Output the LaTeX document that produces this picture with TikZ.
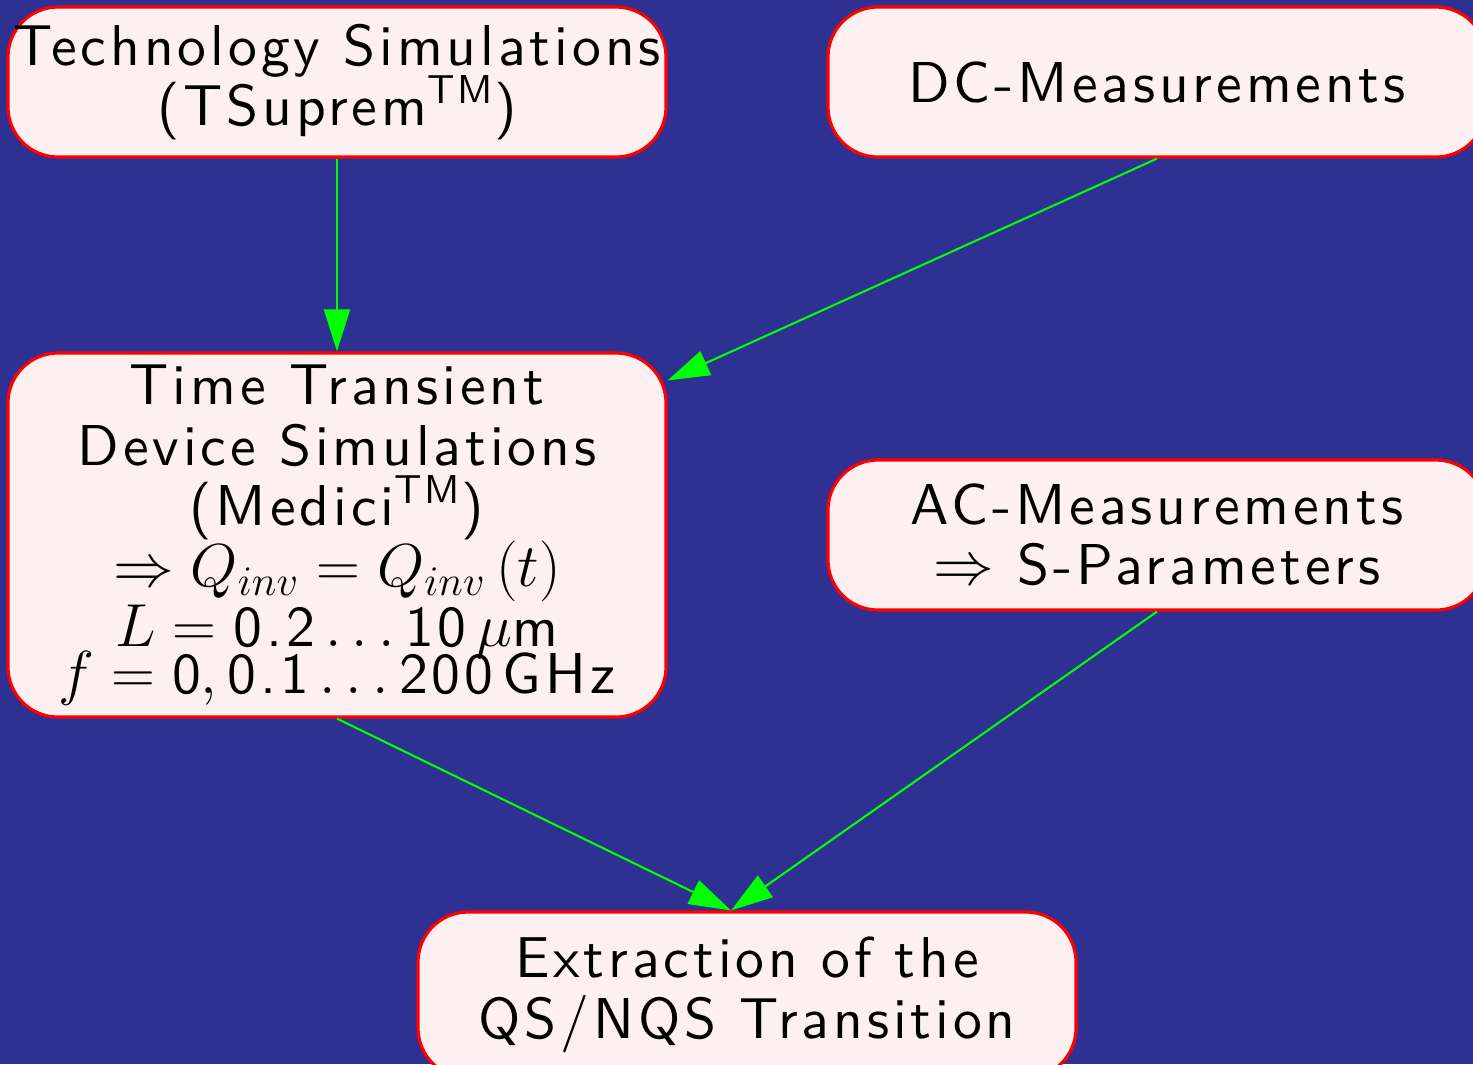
\documentclass[tikz,border=0pt]{standalone}
\usepackage{fontspec}
\usetikzlibrary{arrows.meta}
\newfontfamily\widesans{lmsans10-regular.otf}[LetterSpace=6.8]
\definecolor{bgblue}{RGB}{46,49,146}
\definecolor{boxfill}{RGB}{253,240,240}
\newcommand{\sfnum}[1]{\mbox{#1}}
\newcommand{\boxfont}{\widesans\fontsize{16.4}{17.2}\selectfont\setlength{\lineskiplimit}{-8pt}}
\tikzset{
  box/.style={draw=red, line width=0.9pt, fill=boxfill, rounded corners=0.5cm,
    minimum width=6.58cm, minimum height=1.5cm, align=center, inner xsep=0pt, inner ysep=2pt,
    font=\boxfont},
  flow/.style={draw=green, line width=0.6pt, -{Triangle[length=0.42cm,width=0.26cm]}}
}
\begin{document}
\begin{tikzpicture}
\useasboundingbox (0,0) rectangle (14.73,-10.64);
\fill[bgblue] (0,0) rectangle (14.73,-10.64);

\node[box] (tech) at (3.37,-0.82) {Technology Simulations\\(TSuprem\textsuperscript{TM})};
\node[box] (dc) at (11.57,-0.82) {DC-Measurements};
\node[box, minimum height=3.64cm] (time) at (3.37,-5.35) {Time Transient\\Device Simulations\\(Medici\textsuperscript{TM})\\
  $\Rightarrow Q_{inv}=Q_{inv}\left(t\right)$\\
  $L=\sfnum{0.2}\ldots\sfnum{10}\,\mu$m\\[-4pt]
  $f=\sfnum{0},\sfnum{0.1}\ldots\sfnum{200}$\,GHz};
\node[box] (ac) at (11.57,-5.35) {AC-Measurements\\$\Rightarrow$ S-Parameters};
\node[box, minimum height=1.66cm] (extr) at (7.47,-9.95) {Extraction of the\\QS/NQS Transition};

\draw[flow] (tech.south) -- (time.north);
\draw[flow] (dc.south) -- ([yshift=-0.29cm]time.north east);
\draw[flow] (time.south) -- ([xshift=-0.16cm]extr.north);
\draw[flow] (ac.south) -- ([xshift=-0.16cm]extr.north);

\end{tikzpicture}
\end{document}
